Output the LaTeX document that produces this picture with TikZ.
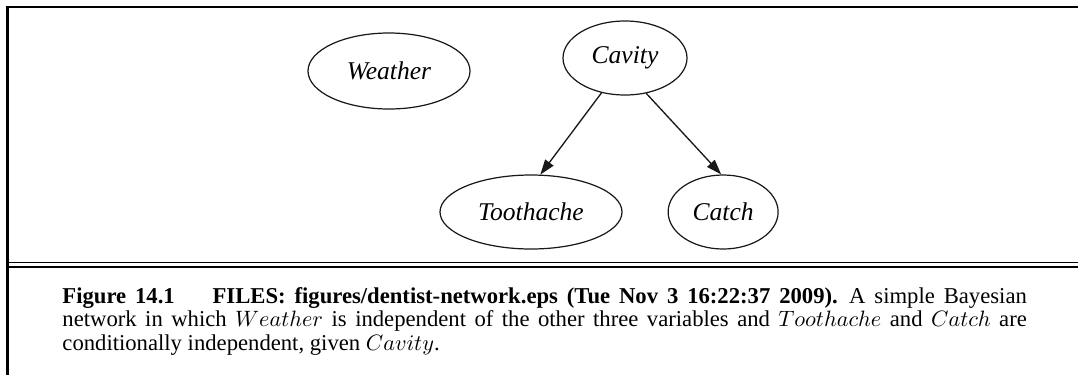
\documentclass[tikz,border=0pt]{standalone}
\usepackage{fontspec}
\setmainfont{Liberation Serif}
\usepackage{tikz}
\usetikzlibrary{arrows.meta,positioning,shapes.geometric}
\usepackage{xcolor}
\definecolor{ink}{RGB}{25,25,25}
\tikzset{
  var/.style={ellipse,draw=ink,line width=0.55pt,inner sep=0pt,
    minimum height=33.3pt,font=\fontsize{11.5}{13}\selectfont\itshape},
  ar/.style={-{Triangle[length=6.8pt,width=4.6pt]},line width=0.6pt,draw=ink},
  frameline/.style={line width=0.95pt},
  hairline/.style={line width=0.55pt},
  capbox/.style={anchor=north west,inner sep=0pt,text width=434pt,
    align=justify,font=\fontsize{10.2}{10.5}\selectfont},
}

\begin{document}
\begin{tikzpicture}[x=0.45pt,y=-0.45pt]
  \useasboundingbox (0,0) rectangle (1078,375);
  % the network
  \node[var,minimum width=55.8pt] (cav) at (625,58) {Cavity};
  \node[var,minimum width=72.9pt,minimum height=34.2pt] (wea) at (389,71) {Weather};
  \node[var,minimum width=81.9pt] (tooth) at (531,212) {Toothache};
  \node[var,minimum width=49.5pt,right=20.2pt of tooth] (catch) {Catch};
  \draw[ar] (cav.236) -- (tooth.76);
  \draw[ar] (cav.301) -- (catch.93);
  % frame and caption
  \draw[frameline] (1078,6.7) -| (7.5,375);
  \draw[hairline] (7.5,262.5) -- (1078,262.5);
  \draw[frameline] (7.5,266.8) -- (1078,266.8);
  \node[capbox] (cap) at (62,287) {\textbf{Figure 14.1}\hspace{17pt}\textbf{FILES: figures/dentist-network.eps (Tue Nov 3 16:22:37 2009).}\enspace A simple Bayesian\linebreak
    network in which $Weather$ is independent of the other three variables and $Toothache$ and $Catch$ are\linebreak
    conditionally independent, given $Cavity$.};
\end{tikzpicture}
\end{document}
